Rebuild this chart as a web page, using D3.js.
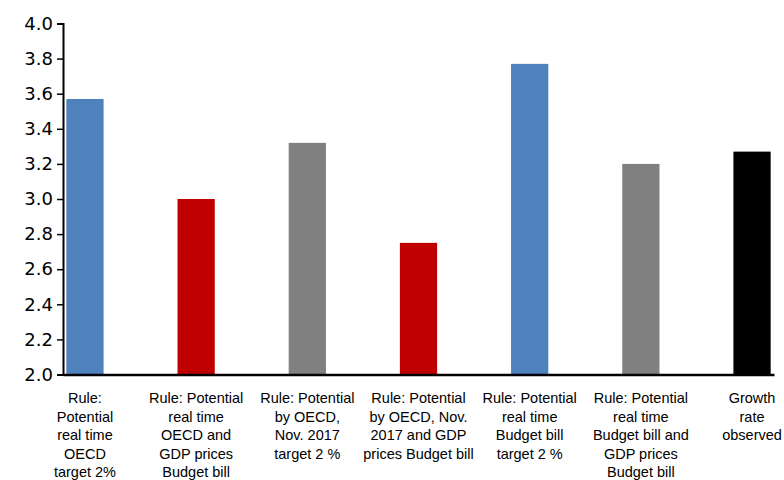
<!DOCTYPE html>
<html>
<head>
<meta charset="utf-8">
<script src="https://cdn.jsdelivr.net/npm/d3@7"></script>
<style>
  body { margin: 0; background: #fff; }
  .tick text { font-family: "DejaVu Sans", sans-serif; }
</style>
</head>
<body>
<script>
// chart values
let categories = ['r1', 'r2', 'r3', 'r4', 'r5', 'r6', 'obs']
let values = [3.57, 3.00, 3.32, 2.75, 3.77, 3.20, 3.27]
let colors = ['#4F81BD', '#C00000', '#808080', '#C00000', '#4F81BD', '#808080', '#000000']
let labels = [
    ['Rule:', 'Potential', 'real time', 'OECD', 'target 2%'],
    ['Rule: Potential', 'real time', 'OECD and', 'GDP prices', 'Budget bill'],
    ['Rule: Potential', 'by OECD,', 'Nov. 2017', 'target 2 %'],
    ['Rule: Potential', 'by OECD, Nov.', '2017 and GDP', 'prices Budget bill'],
    ['Rule: Potential', 'real time', 'Budget bill', 'target 2 %'],
    ['Rule: Potential', 'real time', 'Budget bill and', 'GDP prices', 'Budget bill'],
    ['Growth', 'rate', 'observed']
]
let yTicks = [2.0, 2.2, 2.4, 2.6, 2.8, 3.0, 3.2, 3.4, 3.6, 3.8, 4.0]

let width = 784
let height = 480
let plotLeft = 63, plotRight = 774, plotTop = 23.5, plotBottom = 374.5

let svg = d3.select('body')
    .append('svg')
    .attr('width', width)
    .attr('height', height)

let xScale = d3.scaleBand()
    .domain(categories)
    .range([plotLeft, plotRight])
    .paddingInner(0.665)
    .paddingOuter(0.03)

let yScale = d3.scaleLinear()
    .domain([2, 4])
    .range([plotBottom, plotTop])

// bars
svg.selectAll('.bar')
    .data(values)
    .enter().append('rect')
    .attr('class', 'bar')
    .attr('x', (d, i) => xScale(categories[i]))
    .attr('y', d => yScale(d))
    .attr('width', xScale.bandwidth())
    .attr('height', d => plotBottom - yScale(d))
    .attr('fill', (d, i) => colors[i])

// y axis
let yAxis = svg.append('g')
    .attr('transform', 'translate(' + plotLeft + ',0)')
    .call(d3.axisLeft(yScale).tickValues(yTicks).tickFormat(d3.format('.1f')).tickSize(6).tickPadding(4))
yAxis.select('.domain').attr('stroke', '#000').attr('stroke-width', 2)
yAxis.selectAll('.tick line').attr('stroke', '#000').attr('stroke-width', 1.5)
yAxis.selectAll('.tick text').attr('font-size', 18).attr('fill', '#000')

// x axis line
let xAxis = svg.append('g')
    .attr('transform', 'translate(0,' + plotBottom + ')')
    .call(d3.axisBottom(xScale).tickSize(0).tickFormat(''))
xAxis.select('.domain').attr('stroke', '#000').attr('stroke-width', 2.5)

// category labels, wrapped by hand as in the picture
let lab = svg.selectAll('.lab')
    .data(labels)
    .enter().append('text')
    .attr('class', 'lab')
    .attr('text-anchor', 'middle')
    .attr('font-family', '"Liberation Sans", Arial, sans-serif')
    .attr('font-size', 14.5)
    .attr('fill', '#000')

lab.selectAll('tspan')
    .data((d, i) => d.map(line => ({ line: line, cx: xScale(categories[i]) + xScale.bandwidth() / 2 })))
    .enter().append('tspan')
    .attr('x', d => d.cx)
    .attr('y', (d, j) => 403 + j * 18.5)
    .text(d => d.line)
</script>
</body>
</html>
